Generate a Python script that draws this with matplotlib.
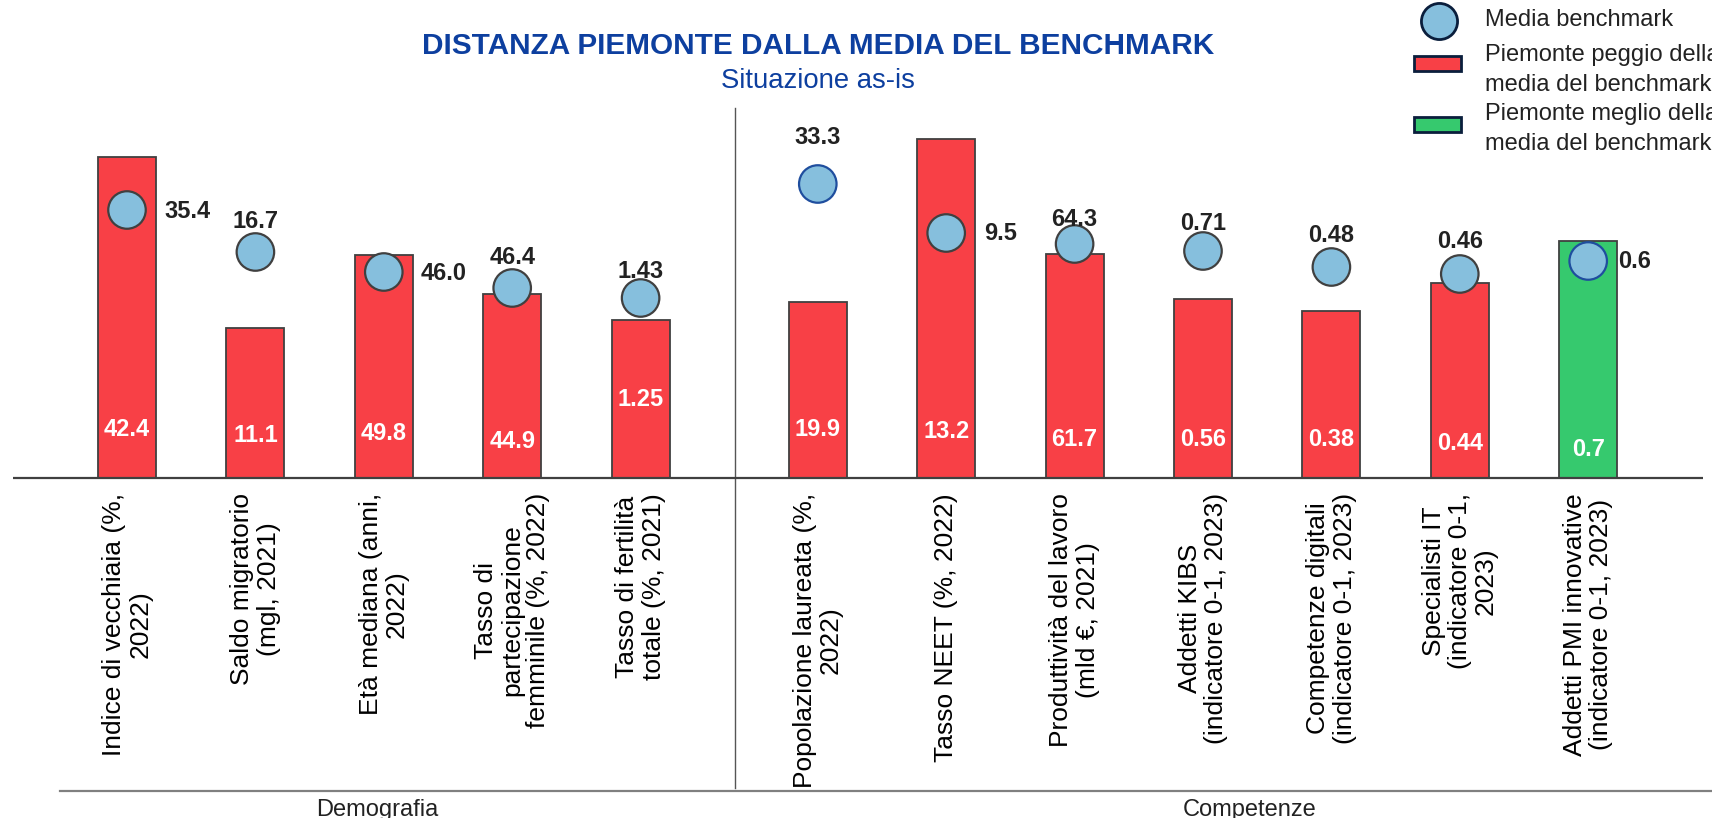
import matplotlib
matplotlib.use('Agg')
import matplotlib.pyplot as plt
from matplotlib.patches import Rectangle

plt.rcParams['font.family'] = ['Liberation Sans', 'DejaVu Sans']

# ---------------- data ----------------
categories = [
    "Indice di vecchiaia (%,\n2022)",
    "Saldo migratorio\n(mgl, 2021)",
    "Età mediana (anni,\n2022)",
    "Tasso di\npartecipazione\nfemminile (%, 2022)",
    "Tasso di fertilità\ntotale (%, 2021)",
    "Popolazione laureata (%,\n2022)",
    "Tasso NEET (%, 2022)",
    "Produttività del lavoro\n(mld €, 2021)",
    "Addetti KIBS\n(indicatore 0-1, 2023)",
    "Competenze digitali\n(indicatore 0-1, 2023)",
    "Specialisti IT\n(indicatore 0-1,\n2023)",
    "Addetti PMI innovative\n(indicatore 0-1, 2023)",
]
groups = ["Demografia", "Competenze"]
group_sizes = [5, 7]
piemonte_labels = ["42.4", "11.1", "49.8", "44.9", "1.25", "19.9", "13.2",
                   "61.7", "0.56", "0.38", "0.44", "0.7"]
benchmark_labels = ["35.4", "16.7", "46.0", "46.4", "1.43", "33.3", "9.5",
                    "64.3", "0.71", "0.48", "0.46", "0.6"]
# normalised heights (chart index units)
piemonte_index = [321, 150, 223, 184, 158, 176, 339, 224, 179, 167, 195, 237]
benchmark_index = [268, 226, 206, 190, 180, 294, 245, 234, 227, 211, 204, 217]
piemonte_better = [False] * 11 + [True]

# ---------------- layout / style ----------------
W, H, DPI = 1712, 818, 100
X0, STEP, BASE = 127, 128.4, 478
GROUP_GAP = 0.38
BAR_W = 0.452
RED, GREEN = "#F84046", "#36C96E"
DOT = "#86BFDD"
EDGE = "#404040"
BLUE = "#0D3F9F"
TXT = "#222222"
bench_edge = [EDGE] * 5 + ["#1F4E9E"] + [EDGE] * 5 + ["#1F4E9E"]
bench_label_side = ["right", "above", "right", "above", "above", "above",
                    "right", "above", "above", "above", "above", "right"]
bench_label_off = [37, 31, 37, 31, 26, 47, 38, 25, 27, 31, 32, 30]
inner_label_h = [48, 43, 44, 37, 78, 49, 46, 39, 38, 38, 34, 28]
CAT_SIZE = 19

xpos = []
off = 0.0
k = 0
for g, n in enumerate(group_sizes):
    for i in range(n):
        xpos.append(k + off)
        k += 1
    off += GROUP_GAP

fig = plt.figure(figsize=(W / DPI, H / DPI), dpi=DPI)
fig.patch.set_facecolor("white")

# decoration axes in pixel coordinates
deco = fig.add_axes([0, 0, 1, 1])
deco.set_xlim(0, W)
deco.set_ylim(H, 0)
deco.axis("off")

ax = fig.add_axes([0, 0, 1, 1])
ax.patch.set_alpha(0)
ax.set_xlim((0 - X0) / STEP, (W - X0) / STEP)
ax.set_ylim(BASE - H, BASE)
ax.axis("off")

# bars
colors = [GREEN if b else RED for b in piemonte_better]
ax.bar(xpos, piemonte_index, width=BAR_W, color=colors, edgecolor=EDGE,
       linewidth=1.3, zorder=2)
# baseline
ax.plot([(13 - X0) / STEP, (1703 - X0) / STEP], [0, 0], color=EDGE,
        lw=1.6, zorder=3, solid_capstyle="butt")
# benchmark markers
ax.scatter(xpos, benchmark_index, s=27 ** 2, c=DOT, edgecolors=bench_edge,
           linewidths=1.6, zorder=4)

# labels
for i, x in enumerate(xpos):
    ax.text(x, inner_label_h[i], piemonte_labels[i], color="white",
            fontsize=17, fontweight="bold", ha="center", va="center", zorder=5)
    if bench_label_side[i] == "right":
        ax.text(x + bench_label_off[i] / STEP, benchmark_index[i] - 1,
                benchmark_labels[i], color=TXT, fontsize=17,
                fontweight="bold", ha="left", va="center", zorder=5)
    else:
        ax.text(x, benchmark_index[i] + bench_label_off[i],
                benchmark_labels[i], color=TXT, fontsize=17,
                fontweight="bold", ha="center", va="center", zorder=5)
    ax.text(x, -15, categories[i], rotation=90, ha="center", va="top",
            multialignment="center", fontsize=CAT_SIZE, color="black",
            linespacing=1.12)

# divider and group line
deco.plot([735, 735], [108, 788], color="#555555", lw=1.0)
deco.plot([60, W], [791, 791], color="#808080", lw=1.6)
deco.text(377, 810, groups[0], ha="center", va="center", fontsize=17, color=TXT)
deco.text(1250, 810, groups[1], ha="center", va="center", fontsize=17, color=TXT)

# title
deco.text(818, 46, "DISTANZA PIEMONTE DALLA MEDIA DEL BENCHMARK", ha="center",
          va="center", fontsize=21.4, fontweight="bold", color=BLUE)
deco.text(818, 81, "Situazione as-is", ha="center", va="center", fontsize=19.8,
          color=BLUE)

# legend
deco.scatter([1439], [21], s=26 ** 2, c=DOT, edgecolors="#0A1E3C", linewidths=2)
deco.add_patch(Rectangle((1414, 56), 47, 15, facecolor=RED,
                         edgecolor="#0A1E3C", lw=2))
deco.add_patch(Rectangle((1414, 117), 47, 15, facecolor=GREEN,
                         edgecolor="#0A1E3C", lw=2))
deco.text(1485, 20, "Media benchmark", ha="left", va="center", fontsize=17, color=TXT)
deco.text(1485, 70, "Piemonte peggio della\nmedia del benchmark", ha="left",
          va="center", fontsize=17, color=TXT, linespacing=1.5)
deco.text(1485, 129, "Piemonte meglio della\nmedia del benchmark", ha="left",
          va="center", fontsize=17, color=TXT, linespacing=1.5)

fig.savefig("out.png", dpi=DPI, facecolor="white")
